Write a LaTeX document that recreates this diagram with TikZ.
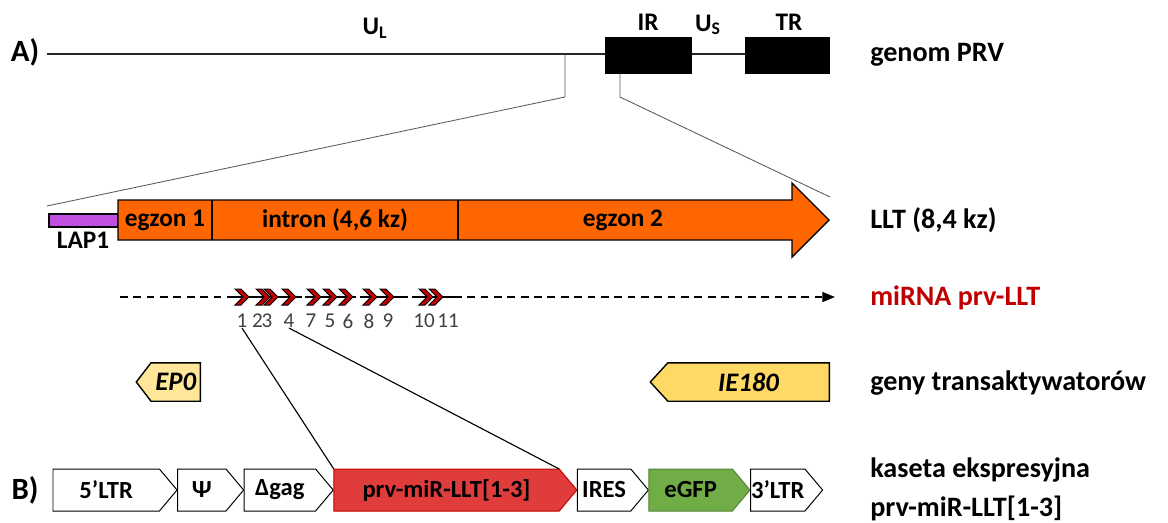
\documentclass[tikz,border=0pt]{standalone}
\usepackage{fontspec}
\setmainfont{Carlito}
\usetikzlibrary{positioning, shapes.symbols, arrows.meta}

\definecolor{lltorange}{HTML}{FF6600}
\definecolor{lappurple}{HTML}{C04FE0}
\definecolor{mirred}{HTML}{C00000}
\definecolor{epyellow}{HTML}{FFE699}
\definecolor{ieyellow}{HTML}{FFD966}
\definecolor{cassred}{HTML}{E03C3C}
\definecolor{egfpgreen}{HTML}{70AD47}
\definecolor{egfpdark}{HTML}{548235}
\definecolor{numgray}{HTML}{404040}

\begin{document}
\begin{tikzpicture}[x=0.025cm, y=-0.025cm,
	sidelabel/.style={anchor=west, inner sep=0pt, font=\fontsize{20}{24}\selectfont\bfseries},
	partlabel/.style={inner sep=0pt, font=\fontsize{22}{26}\selectfont\bfseries},
	genelabel/.style={inner sep=0pt, font=\fontsize{18}{21}\selectfont\bfseries},
	cassette/.style={draw, signal, signal to=east, signal pointer angle=100, minimum height=1.05cm, inner sep=0pt, outer sep=0pt, line width=0.7pt, font=\fontsize{17.5}{21}\selectfont\bfseries},
	transact/.style={draw, signal, signal to=west, signal pointer angle=105, minimum height=0.96cm, inner sep=0pt, line width=1pt, font=\fontsize{19}{23}\selectfont\bfseries\itshape},
	mirnum/.style={text=numgray, inner sep=0pt, font=\fontsize{15}{18}\selectfont},
	chevron/.style={fill=mirred, draw=black, line width=0.7pt},
	zoomline/.style={draw=black!65, line width=0.6pt},
	]
	\useasboundingbox (0,0) rectangle (1168,522);

	% A) genom PRV
	\node[partlabel] (A) at (25,52) {A)};
	\coordinate (gstart) at (47,54);
	\node[fill=black, minimum width=2.175cm, minimum height=0.925cm, inner sep=0pt] (IR) at (648.5,55.5) {};
	\node[fill=black, minimum width=2.125cm, minimum height=0.925cm, inner sep=0pt] (TR) at (787.5,55.5) {};
	\draw[line width=1.3pt, black!85] (gstart) -- (IR.west |- gstart);
	\draw[line width=1.3pt, black!85] (IR.east |- gstart) -- (TR.west |- gstart);
	\node[genelabel] (UL) at (375,28) {U\textsubscript{L}};
	\node[genelabel] (IRl) at (648,22) {IR};
	\node[genelabel] (US) at (708,25) {U\textsubscript{S}};
	\node[genelabel] (TRl) at (789,22) {TR};
	\node[sidelabel] (genom) at (870,55) {genom PRV};

	% zoom na LLT
	\coordinate (zl1) at (565,54);
	\coordinate (zl2) at (565,97);
	\coordinate (zl3) at (47,206);
	\coordinate (zr1) at (620,73);
	\coordinate (zr2) at (620,97);
	\coordinate (zr3) at (830,197);
	\draw[zoomline] (zl1) -- (zl2) -- (zl3);
	\draw[zoomline] (zr1) -- (zr2) -- (zr3);

	% LLT
	\node[draw, fill=lappurple, line width=0.8pt, minimum width=1.725cm, minimum height=0.325cm, inner sep=0pt] (LAP) at (83.5,220.5) {};
	\node[genelabel] (LAPl) at (83,240) {LAP1};
	\draw[fill=lltorange, line width=1pt] (118,200) -- (792,200) -- (792,183) -- (829,220) -- (792,257) -- (792,240) -- (118,240) -- cycle;
	\draw[line width=0.8pt] (212,200) -- (212,240);
	\draw[line width=0.8pt] (458,200) -- (458,240);
	\node[genelabel] (ex1) at (165,220) {egzon 1};
	\node[genelabel] (intr) at (335,220) {intron (4,6 kz)};
	\node[genelabel] (ex2) at (623,220) {egzon 2};
	\node[sidelabel] (llt) at (870,220) {LLT (8,4 kz)};

	% miRNA
	\draw[line width=1.3pt, dash pattern=on 5.5pt off 4pt, -{Triangle[length=9pt, width=7pt]}] (120,297) -- (835,297);
	\foreach \a/\b in {228/302, 305/356, 360/402, 412/455}
		\draw[line width=1.3pt] (\a,297) -- (\b,297);
	\foreach \x in {235,256,264,282,307,323,339,363,380,419,429}
		\draw[chevron] (\x,289) -- ++(6,0) -- ++(8,8) -- ++(-8,8) -- ++(-6,0) -- ++(8,-8) -- cycle;
	\foreach \n/\x in {1/242, 2/257.5, 3/267, 4/289, 7/311, 5/330, 6/348, 8/369, 9/388, 10/424, 11/448}
		\node[mirnum] (m\n) at (\x,321) {\n};
	\node[sidelabel, text=mirred] (mirna) at (870,298) {miRNA prv-LLT};

	% geny transaktywatorow
	\node[transact, fill=epyellow, minimum width=1.6cm, anchor=east] (EP0) at (201,382) {EP0};
	\node[transact, fill=ieyellow, signal pointer angle=95, minimum width=4.475cm, anchor=east] (IE180) at (830,382) {IE180};
	\node[sidelabel] (geny) at (870,383) {geny transaktywatorów};

	% B) kaseta
	\node[partlabel] (B) at (25,490) {B)};
	\node[cassette, fill=white, minimum width=3.1cm, anchor=west] (ltr5) at (53,490) {5’LTR};
	\node[cassette, fill=white, minimum width=1.65cm, right=0.4pt of ltr5] (psi) {Ψ};
	\node[cassette, fill=white, minimum width=2.225cm, right=0.4pt of psi] (gag) {Δgag};
	\node[cassette, fill=cassred, draw=mirred, minimum width=6.075cm, right=0.4pt of gag] (prv) {prv-miR-LLT[1-3]};
	\node[cassette, fill=white, minimum width=1.775cm, right=0.4pt of prv] (ires) {IRES};
	\node[cassette, fill=egfpgreen, draw=egfpdark, minimum width=2.525cm, right=0.4pt of ires] (egfp) {eGFP};
	\node[cassette, fill=white, minimum width=1.8cm, right=0.4pt of egfp] (ltr3) {3’LTR};
	\node[sidelabel] (kaseta) at (870,470) {kaseta ekspresyjna};
	\node[sidelabel] (kaseta2) at (870,508) {prv-miR-LLT[1-3]};

	\draw[line width=0.8pt] (m1.south) -- (prv.north west);
	\draw[line width=0.8pt] (m4.south) -- (prv.north east);
\end{tikzpicture}
\end{document}
